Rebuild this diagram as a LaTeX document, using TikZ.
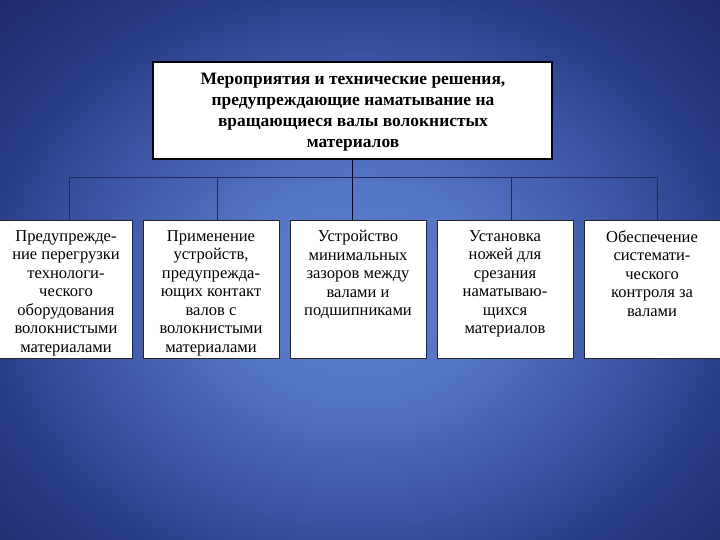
\documentclass[tikz,border=0pt]{standalone}
\usepackage{fontspec}
\setmainfont{Liberation Serif}
\definecolor{bga}{RGB}{92,126,206}
\definecolor{bgb}{RGB}{84,116,196}
\definecolor{bgc}{RGB}{60,86,166}
\definecolor{bgd}{RGB}{42,62,136}
\definecolor{bge}{RGB}{32,48,115}
\definecolor{bgf}{RGB}{24,37,96}
\definecolor{connc}{RGB}{32,44,92}
\pgfdeclareradialshading{bgshade}{\pgfpoint{0bp}{0bp}}{color(0bp)=(bga); color(110bp)=(bgb); color(220bp)=(bgc); color(300bp)=(bgd); color(380bp)=(bge); color(470bp)=(bgf)}
\tikzset{
  bbox/.style={draw=black!85, line width=0.7bp, fill=white, minimum width=136bp, minimum height=138bp, inner sep=0},
  btext/.style={font=\fontsize{16.6}{18.6}\selectfont, align=center, anchor=north, inner sep=0},
  conn/.style={draw=connc, line width=1bp},
}
\begin{document}
\begin{tikzpicture}[x=1bp,y=-1bp]
\useasboundingbox (0,0) rectangle (720,540);
\begin{scope}
\clip (0,0) rectangle (720,540);
\node[inner sep=0, outer sep=0] (bg) at (360,290) {\scalebox{1.25}[1]{\pgfuseshading{bgshade}}};
\end{scope}

\node[draw=black, line width=1.6bp, fill=white, minimum width=399bp, minimum height=97bp, inner sep=0] (top) at (352.5,110.5) {};
\node[font=\bfseries\fontsize{17.5}{21.3}\selectfont, align=center, inner sep=0] (toptext) at (353,112)
  {Мероприятия и технические решения,\\ предупреждающие наматывание на\\ вращающиеся валы волокнистых\\ материалов};

\node[bbox] (b1) at (64,289) {};
\node[bbox] (b2) at (211,289) {};
\node[bbox] (b3) at (358,289) {};
\node[bbox] (b4) at (505,289) {};
\node[bbox] (b5) at (652,289) {};

\node[btext] (t1) at (66,230) {Предупрежде-\\ние перегрузки\\технологи-\\ческого\\оборудования\\волокнистыми\\материалами};
\node[btext] (t2) at (211,230) {Применение\\устройств,\\предупрежда-\\ющих контакт\\валов с\\волокнистыми\\материалами};
\node[btext] (t3) at (358,230) {Устройство\\минимальных\\зазоров между\\валами и\\подшипниками};
\node[btext] (t4) at (505,230) {Установка\\ножей для\\срезания\\наматываю-\\щихся\\материалов};
\node[btext] (t5) at (652,230) {Обеспечение\\системати-\\ческого\\контроля за\\валами};

\coordinate (j1) at (69,178);
\coordinate (j2) at (217,178);
\coordinate (j4) at (511,178);
\coordinate (j5) at (657,178);
\draw[conn] (j1) -- (j5);
\draw[conn] (j1) -- (j1 |- b1.north);
\draw[conn] (j2) -- (j2 |- b2.north);
\draw[conn] (j4) -- (j4 |- b4.north);
\draw[conn] (j5) -- (j5 |- b5.north);
\draw[black, line width=1.1bp] (top.south) -- (top.south |- b3.north);
\end{tikzpicture}
\end{document}
